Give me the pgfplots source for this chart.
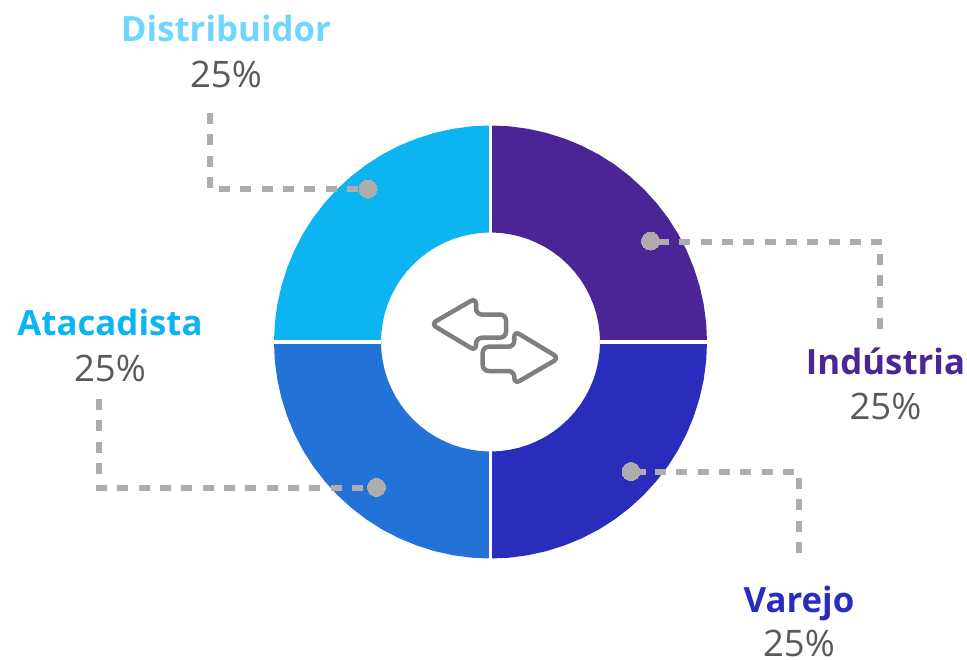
\documentclass[border=0pt]{standalone}
\usepackage{fontspec}
\setmainfont{Open Sans}
\usepackage{pgfplots}
\usepackage{pgfplotstable}
\pgfplotsset{compat=1.18}
\definecolor{industria}{HTML}{4B2496}
\definecolor{varejo}{HTML}{2A2CBC}
\definecolor{atacadista}{HTML}{2272D8}
\definecolor{distribuidor}{HTML}{0DB4F2}
\definecolor{distlabel}{HTML}{6FD6FF}
\definecolor{leader}{HTML}{B0ACAC}
\definecolor{valtext}{HTML}{595959}
\definecolor{icon}{HTML}{7F7F7F}

% one quarter of the ring, offsets from the centre in pixels
\pgfplotstableread{
dx dy
216.5 0
215.7 18.9
213.2 37.6
209.1 56.0
203.4 74.0
196.2 91.5
187.5 108.3
177.4 124.2
165.8 139.2
153.1 153.1
139.2 165.8
124.2 177.4
108.3 187.5
91.5 196.2
74.0 203.4
56.0 209.1
37.6 213.2
18.9 215.7
0 216.5
0 109.5
9.5 109.1
19.0 107.8
28.3 105.8
37.5 102.9
46.3 99.2
54.8 94.8
62.8 89.7
70.4 83.9
77.4 77.4
83.9 70.4
89.7 62.8
94.8 54.8
99.2 46.3
102.9 37.5
105.8 28.3
107.8 19.0
109.1 9.5
109.5 0
}\ringquarter

\pgfplotsset{
  wedge/.style={fill=#1, draw=none},
  sep/.style={white, line width=3.2pt},
  lead/.style={leader, line width=6pt, dash pattern=on 11pt off 10.33pt},
  dot/.style={leader, only marks, mark=*, mark size=9pt, mark options={solid, fill=leader, draw=leader, line width=0pt}},
  arrowicon/.style={icon, line width=4.5pt, line join=round, rounded corners=6pt},
}
\newcommand{\lab}[1]{\fontsize{34.8}{35}\selectfont\bfseries #1}
\newcommand{\val}{\fontsize{36.5}{37}\selectfont 25\%}

\begin{document}
\begin{tikzpicture}
\begin{axis}[
  width=967pt, height=659pt, scale only axis,
  xmin=0, xmax=967, ymin=0, ymax=659,
  y dir=reverse,
  hide axis, clip=false,
]
  % ring
  \addplot[wedge=industria] table[x expr=490.5+\thisrow{dx}, y expr=342-\thisrow{dy}] {\ringquarter} -- cycle;
  \addplot[wedge=varejo] table[x expr=490.5+\thisrow{dx}, y expr=342+\thisrow{dy}] {\ringquarter} -- cycle;
  \addplot[wedge=atacadista] table[x expr=490.5-\thisrow{dx}, y expr=342+\thisrow{dy}] {\ringquarter} -- cycle;
  \addplot[wedge=distribuidor] table[x expr=490.5-\thisrow{dx}, y expr=342-\thisrow{dy}] {\ringquarter} -- cycle;
  \addplot[sep] coordinates {(490.5,124)(490.5,233)};
  \addplot[sep] coordinates {(490.5,451)(490.5,560)};
  \addplot[sep] coordinates {(273,342)(381,342)};
  \addplot[sep] coordinates {(600,342)(708,342)};

  % centre icon
  \addplot[arrowicon] coordinates {(431,324)(476,298)(476,314.5)(506,314.5)(506,337.7)(476,337.7)(476,351)} -- cycle;
  \addplot[arrowicon] coordinates {(559,358)(514.3,331)(514.3,346.7)(482.7,346.7)(482.7,371)(514.3,371)(514.3,384)} -- cycle;

  % leaders
  \addplot[lead] coordinates {(209.5,113)(209.5,188)};
  \addplot[lead] coordinates {(219,188.5)(368,188.5)};
  \addplot[lead] coordinates {(658,241.5)(882,241.5)};
  \addplot[lead] coordinates {(880,254)(880,330)};
  \addplot[lead] coordinates {(655,472)(794,472)};
  \addplot[lead] coordinates {(640,472)(646,472)};
  \addplot[lead] coordinates {(799,478)(799,553)};
  \addplot[lead] coordinates {(96,487.5)(376,487.5)};
  \addplot[lead] coordinates {(98.5,399)(98.5,475)};
  \addplot[dot] coordinates {(368,189)(650.5,241)(631,471.5)(376.5,487.3)};

  % labels
  \node[anchor=base, inner sep=0pt, text=distlabel] at (axis cs:226,41) {\lab{Distribuidor}};
  \node[anchor=base, inner sep=0pt, text=valtext] at (axis cs:226,87) {\val};
  \node[anchor=base, inner sep=0pt, text=industria] at (axis cs:885.5,374) {\lab{Indústria}};
  \node[anchor=base, inner sep=0pt, text=valtext] at (axis cs:885.5,419) {\val};
  \node[anchor=base, inner sep=0pt, text=varejo] at (axis cs:799,612) {\lab{Varejo}};
  \node[anchor=base, inner sep=0pt, text=valtext] at (axis cs:799,656) {\val};
  \node[anchor=base, inner sep=0pt, text=distribuidor] at (axis cs:110,335) {\lab{Atacadista}};
  \node[anchor=base, inner sep=0pt, text=valtext] at (axis cs:110,381) {\val};
\end{axis}
\pgfresetboundingbox
\useasboundingbox (0,0) rectangle (967pt,659pt);
\end{tikzpicture}
\end{document}
